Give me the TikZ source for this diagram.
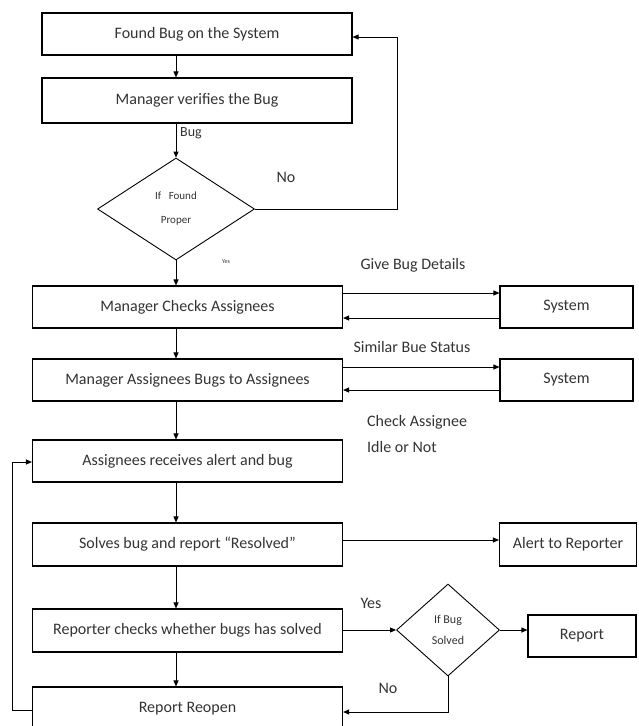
\documentclass[tikz,border=0pt]{standalone}
\usepackage{fontspec}
\setmainfont{Carlito}
\usetikzlibrary{shapes.geometric,arrows.meta}
\begin{document}
\begin{tikzpicture}[x=1pt,y=-1pt,
 box/.style={draw,line width=1.1pt,minimum width=310pt,minimum height=42pt,inner sep=0pt,font=\fontsize{16}{18}\selectfont,text=black!80},
 sbox/.style={box,minimum width=133pt},
 dec/.style={draw,line width=0.9pt,diamond,inner sep=0pt,align=center,text=black!80},
 arr/.style={line width=0.9pt,-{Triangle[length=6pt,width=5pt]}},
 ln/.style={line width=0.9pt},
 lbl/.style={font=\fontsize{16}{18}\selectfont,text=black!80,inner sep=0pt}]
\useasboundingbox (0,0) rectangle (638,726);
\clip (0,0) rectangle (638,726);
% main column
\node[box] (b1) at (197,34) {Found Bug on the System};
\node[box,minimum height=45pt] (b2) at (197,100.5) {Manager verifies the Bug};
\node[dec,minimum width=157pt,minimum height=102pt,font=\fontsize{11}{24}\selectfont] (d1) at (176,209) {If\ \ \ Found\\Proper};
\node[box] (b3) at (187.5,307) {Manager Checks Assignees};
\node[box] (b4) at (187.5,380) {Manager Assignees Bugs to Assignees};
\node[box] (b5) at (187.5,461) {Assignees receives alert and bug};
\node[box,minimum height=43pt] (b6) at (187.5,544.5) {Solves bug and report ``Resolved''};
\node[box,minimum height=43pt] (b7) at (187.5,630.5) {Reporter checks whether bugs has solved};
\node[box,minimum height=43pt] (b8) at (187.5,708.5) {Report Reopen};
% right column
\node[sbox] (s1) at (566.5,307) {System};
\node[sbox] (s2) at (566.5,380) {System};
\node[sbox,minimum width=137pt,minimum height=43pt] (al) at (568,544.5) {Alert to Reporter};
\node[dec,minimum width=103pt,minimum height=92pt,font=\fontsize{12}{21}\selectfont] (d2) at (448,630) {If Bug\\Solved};
\node[sbox,minimum width=108pt] (rep) at (582,636) {Report};
% labels
\node[lbl,font=\fontsize{14}{16}\selectfont,anchor=west] (lbug) at (180,133) {Bug};
\node[lbl] (lno1) at (286,177) {No};
\node[lbl,font=\fontsize{6}{7}\selectfont] (lyes1) at (226,262) {Yes};
\node[lbl] (lgive) at (413,265) {Give Bug Details};
\node[lbl] (lsim) at (412,347) {Similar Bue Status};
\node[lbl,anchor=west] (lchk) at (367,422) {Check Assignee};
\node[lbl,anchor=west] (lidle) at (367,447) {Idle or Not};
\node[lbl] (lyes2) at (371,603) {Yes};
\node[lbl] (lno2) at (388,688) {No};
% helper coordinates
\coordinate (c1) at (397,37);
\coordinate (c2) at (448,712);
\coordinate (c3) at (12,710);
\coordinate (c4) at (12,462);
% vertical flow
\draw[arr] (b1.south -| d1) -- (b2.north -| d1);
\draw[arr] (b2.south -| d1) -- (d1.north);
\draw[arr] (d1.south) -- (b3.north -| d1);
\draw[arr] (b3.south -| d1) -- (b4.north -| d1);
\draw[arr] (b4.south -| d1) -- (b5.north -| d1);
\draw[arr] (b5.south -| d1) -- (b6.north -| d1);
\draw[arr] (b6.south -| d1) -- (b7.north -| d1);
\draw[arr] (b7.south -| d1) -- (b8.north -| d1);
% No loop
\draw[arr] (d1.east) -| (c1) -- (b1.east |- c1);
% system exchanges
\draw[arr] (b3.east |- 0,293) -- (s1.west |- 0,293);
\draw[arr] (s1.west |- 0,318) -- (b3.east |- 0,318);
\draw[arr] (b4.east |- 0,367) -- (s2.west |- 0,367);
\draw[arr] (s2.west |- 0,390) -- (b4.east |- 0,390);
\draw[arr] (b6.east |- 0,540) -- (al.west |- 0,540);
% reporter decision
\draw[arr] (b7.east |- d2.west) -- (d2.west);
\draw[arr] (d2.east) -- (d2.east -| rep.west);
\draw[arr] (d2.south) -- (c2) -- (b8.east |- c2);
% reopen loop
\draw[arr] (b8.west |- c3) -- (c3) -- (c4) -- (b5.west |- c4);
\end{tikzpicture}
\end{document}
